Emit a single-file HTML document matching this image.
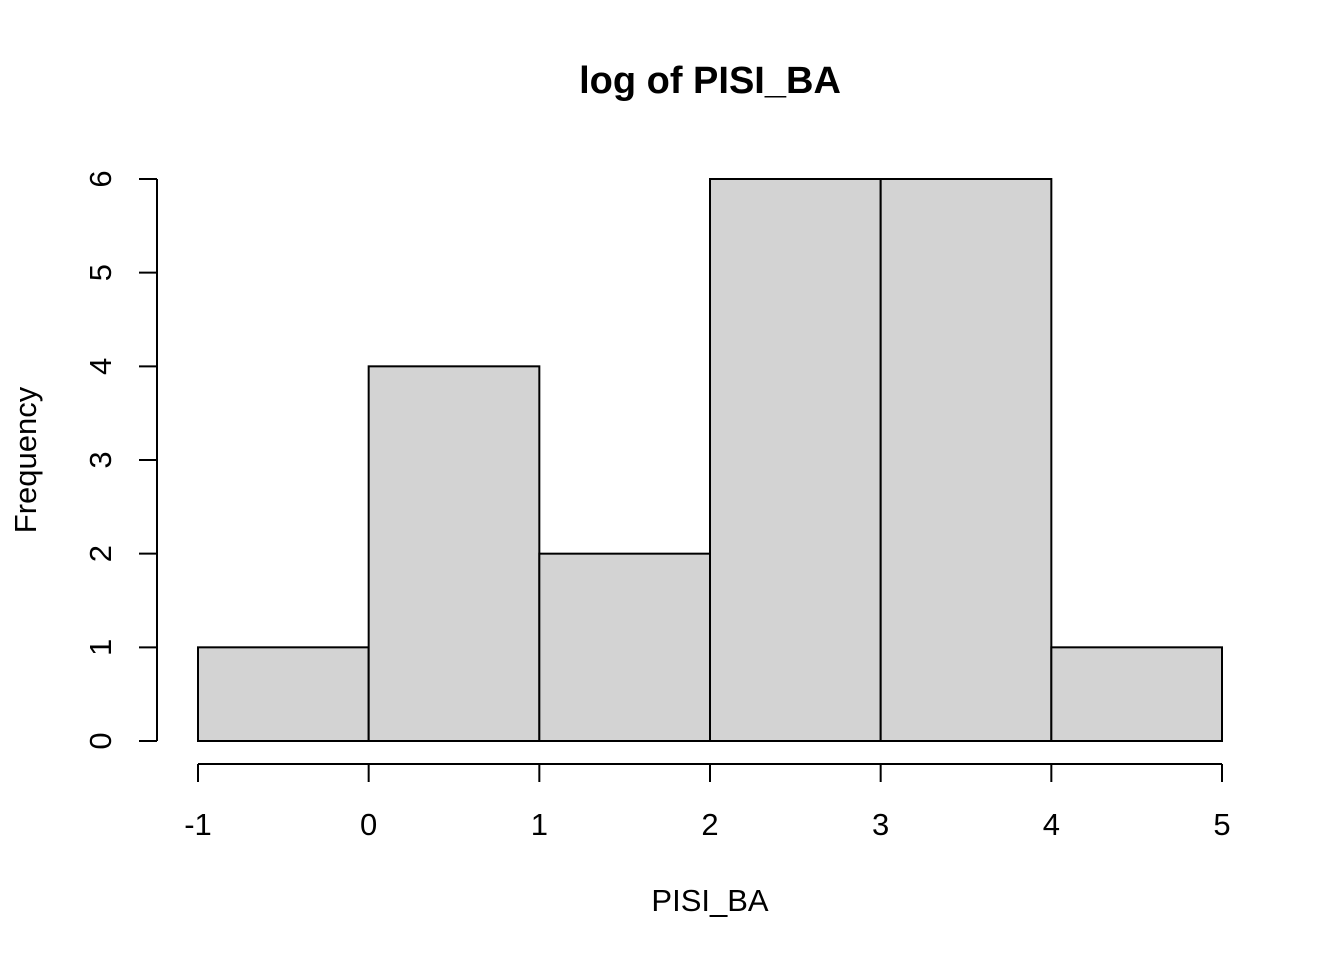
<!DOCTYPE html>
<html><head><meta charset="utf-8"><style>
html,body{margin:0;padding:0;background:#fff;}
svg{display:block;font-family:"Liberation Sans",Arial,sans-serif;}
</style></head><body>
<svg id="chart" width="1344" height="960" viewBox="0 0 1344 960">
<text x="710" y="93" text-anchor="middle" font-size="38" font-weight="bold">log of PISI_BA</text>
<text x="710" y="911" text-anchor="middle" font-size="31">PISI_BA</text>
<text transform="translate(36,460) rotate(-90)" text-anchor="middle" font-size="31">Frequency</text>
<g id="bars"></g>
<g id="xaxis"></g>
<g id="yaxis"></g>
</svg>
<script>
const breaks = [-1, 0, 1, 2, 3, 4, 5];
const counts = [1, 4, 2, 6, 6, 1];
const xTicks = [-1, 0, 1, 2, 3, 4, 5];
const yTicks = [0, 1, 2, 3, 4, 5, 6];

const NS = "http://www.w3.org/2000/svg";
function xs(v){ return 198 + (v + 1) * (1222 - 198) / 6; }
function ys(v){ return 741 - v * (741 - 179) / 6; }
function mk(tag, attrs, parent){
  const e = document.createElementNS(NS, tag);
  for (const k in attrs) e.setAttribute(k, attrs[k]);
  parent.appendChild(e);
  return e;
}
const bars = document.getElementById('bars');
counts.forEach((c, i) => {
  const x0 = xs(breaks[i]), x1 = xs(breaks[i+1]);
  const r = mk('rect', {x: x0, y: ys(c), width: x1 - x0, height: ys(0) - ys(c), fill: '#d3d3d3', stroke: '#000', 'stroke-width': 2}, bars);
  
  
});
const xa = document.getElementById('xaxis');


mk('line', {x1: xs(xTicks[0]), x2: xs(xTicks[xTicks.length-1]), y1: 764, y2: 764, stroke: '#000', 'stroke-width': 2}, xa);
xTicks.forEach(t => {
  mk('line', {x1: xs(t), x2: xs(t), y1: 764, y2: 782, stroke: '#000', 'stroke-width': 2}, xa);
  const tx = mk('text', {x: xs(t), y: 835, 'text-anchor': 'middle', 'font-size': 31}, xa);
  tx.textContent = t;
  
  
});
const ya = document.getElementById('yaxis');


mk('line', {x1: 157, x2: 157, y1: ys(yTicks[0]), y2: ys(yTicks[yTicks.length-1]), stroke: '#000', 'stroke-width': 2}, ya);
yTicks.forEach(t => {
  mk('line', {x1: 139, x2: 157, y1: ys(t), y2: ys(t), stroke: '#000', 'stroke-width': 2}, ya);
  const tx = mk('text', {transform: 'translate(111,' + ys(t) + ') rotate(-90)', 'text-anchor': 'middle', 'font-size': 31}, ya);
  tx.textContent = t;
  
  
});
</script>
</body></html>
